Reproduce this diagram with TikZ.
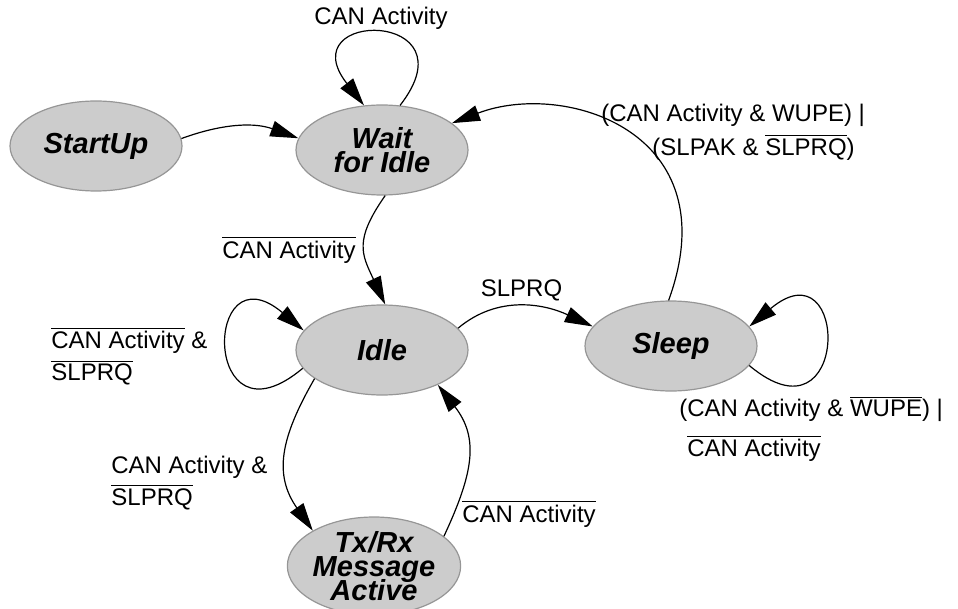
\documentclass[tikz,border=0pt]{standalone}
\usepackage{fontspec}
\setmainfont{Liberation Sans}
\usetikzlibrary{arrows.meta,shapes.geometric}
\definecolor{modefill}{RGB}{204,204,204}
\definecolor{modeline}{RGB}{150,150,150}
\newcommand{\negsig}[1]{$\overline{\mbox{#1}}$}
\newcommand{\modefont}{\fontsize{14.5}{12}\selectfont\bfseries\itshape\setlength{\lineskiplimit}{-20pt}\setlength{\lineskip}{0pt}}
\tikzset{
  mode/.style={ellipse,draw=modeline,line width=0.6pt,fill=modefill,minimum width=86pt,minimum height=45pt,inner sep=0pt,align=center,font=\modefont},
  cond/.style={inner sep=0pt,align=left,font=\fontsize{12}{16}\selectfont},
  trans/.style={-{Triangle[length=14pt,width=8pt]},draw=black,line width=0.6pt}
}

\begin{document}
\begin{tikzpicture}[x=0.5pt,y=0.5pt]
\useasboundingbox (0,0) rectangle (958,-609);
\node[mode] (startup) at (96,-146) {StartUp};
\node[mode] (wait) at (382,-150) {Wait\\for Idle};
\node[mode] (idle) at (382,-350) {Idle};
\node[mode] (sleep) at (671,-346) {Sleep};
\node[mode] (txrx) at (374,-566) {Tx/Rx\\Message\\Active};

\draw[trans] (startup.5) to[out=20,in=160] (wait.172);
\draw[trans] (wait.68) .. controls +(52:122) and +(128:122) .. (wait.112);
\draw[trans] (wait.274) to[out=235,in=115,looseness=1.3] (idle.86);
\draw[trans] (sleep.93) .. controls +(70:180) and +(21:120) .. (wait.21);
\draw[trans] (idle.16) to[out=40,in=155] (sleep.166);
\draw[trans] (sleep.-14) .. controls +(-40:132) and +(40:132) .. (sleep.14);
\draw[trans] (idle.193) .. controls +(220:132) and +(140:132) .. (idle.166);
\draw[trans] (idle.203) to[out=240,in=125,looseness=1.15] (txrx.150);
\draw[trans] (txrx.23) to[out=65,in=308,looseness=1.15] (idle.-32);

\node[cond,anchor=base] (waitloop) at (381,-25) {CAN Activity};
\node[cond,anchor=base east] (waitidle) at (356,-258) {\negsig{CAN Activity}};
\node[cond,anchor=north west] (sleepwait) at (601,-103.5) {(CAN Activity \& WUPE) |\\[1pt]\hspace*{25.5pt}(SLPAK \& \negsig{SLPRQ})};
\node[cond,anchor=base] (idlesleep) at (521.5,-297) {SLPRQ};
\node[cond,anchor=north west] (sleeploop) at (679,-396) {(CAN Activity \& \negsig{WUPE}) |\\[4pt]\hspace*{4pt}\negsig{CAN Activity}};
\node[cond,anchor=north west] (idleloop) at (51,-327) {\negsig{CAN Activity} \&\\\negsig{SLPRQ}};
\node[cond,anchor=north west] (idletx) at (111,-455.5) {CAN Activity \&\\\negsig{SLPRQ}};
\node[cond,anchor=base west] (txidle) at (462,-522) {\negsig{CAN Activity}};
\end{tikzpicture}
\end{document}
